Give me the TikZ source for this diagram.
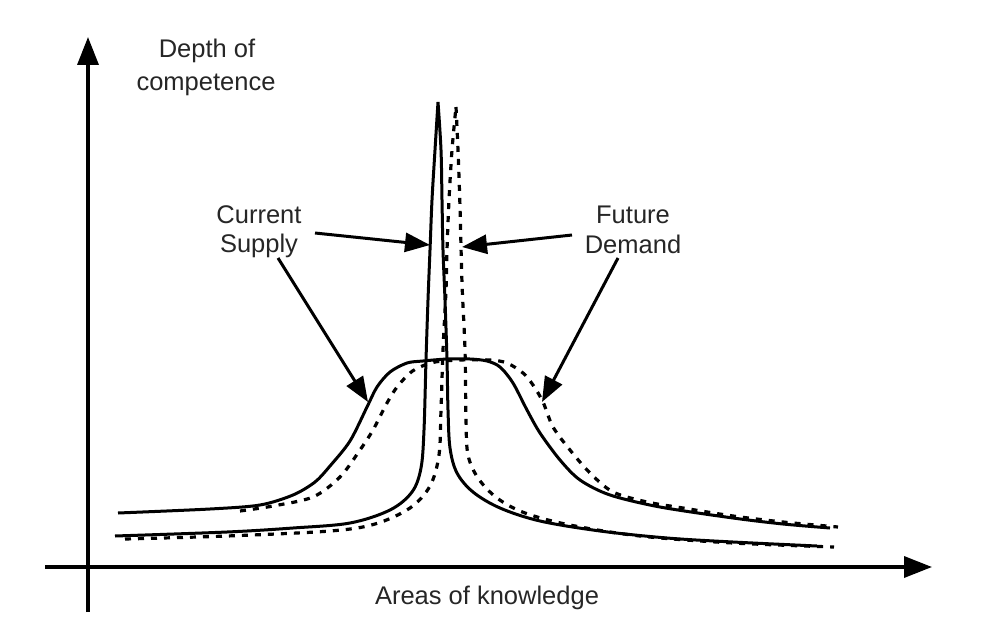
\documentclass[tikz,border=0pt]{standalone}
\usepackage{fontspec}
\setmainfont{Liberation Sans}
\usetikzlibrary{arrows.meta}
\begin{document}
\begin{tikzpicture}[x=1pt,y=-1pt,
  axis/.style={line width=3.5pt,-{Triangle[length=28pt,width=21pt]}},
  ptr/.style={line width=3pt,-{Triangle[length=25pt,width=19pt]}},
  supply/.style={line width=3pt,line join=round},
  demand/.style={line width=3.2pt,dash pattern=on 6pt off 7pt,line join=round},
  lbl/.style={inner sep=0pt,anchor=base,text=black!85,font=\fontsize{25.5}{32}\selectfont}]
\useasboundingbox[fill=white] (0,0) rectangle (982,626);

% axes
\coordinate (yb) at (88,612);
\coordinate (yt) at (88,37);
\coordinate (xl) at (45,567);
\coordinate (xr) at (932,567);
\draw[axis] (yb) -- (yt);
\draw[axis] (xl) -- (xr);

% labels
\node[lbl] (d1) at (207,58) {Depth of};
\node[lbl] (d2) at (206,90) {competence};
\node[lbl] (cs1) at (259,223) {Current};
\node[lbl] (cs2) at (259,252) {Supply};
\node[lbl] (fd1) at (633,223) {Future};
\node[lbl] (fd2) at (633,253) {Demand};
\node[lbl] (ak) at (487,604) {Areas of knowledge};

% current supply: broad curve
\draw[supply] plot[smooth,tension=0.5] coordinates {(118,513) (210,509) (260,505) (293,495) (315,482) (330,466) (350,441) (367,407) (377,387) (390,372) (407,363) (423,361) (447,359) (470,359) (487,361) (500,367) (513,383) (527,410) (540,433) (560,460) (580,480) (610,495) (660,507) (733,518) (783,524) (830,528)};
% current supply: narrow peak
\draw[supply] plot[smooth,tension=0.55] coordinates {(115,536) (227,532) (293,528) (350,523) (390,510) (412,492) (421,468) (424,430) (426,360) (428,300) (430,250) (432,200) (435,150) (438,102)}
  plot[smooth,tension=0.55] coordinates {(438,102) (441,150) (442,200) (443,250) (445,300) (447,360) (448,410) (450,448) (457,473) (473,492) (500,508) (540,521) (600,531) (667,538) (733,542) (817,546)};

% future demand: broad curve
\draw[demand] plot[smooth,tension=0.5] coordinates {(240,511) (273,506) (313,497) (340,477) (360,450) (373,430) (387,403) (397,387) (410,373) (420,367) (435,362) (460,360) (490,360) (507,363) (523,373) (533,385) (543,402) (553,427) (570,450) (590,473) (613,492) (647,502) (683,508) (733,516) (783,522) (838,527)};
% future demand: narrow peak
\draw[demand] plot[smooth,tension=0.55] coordinates {(125,539) (227,536) (330,531) (375,524) (410,508) (430,486) (439,455) (441,410) (443,350) (446,290) (447,250) (449,200) (452,150) (456,107)}
  plot[smooth,tension=0.55] coordinates {(456,107) (458,150) (460,207) (462,283) (465,350) (466,420) (468,455) (478,478) (497,498) (525,513) (570,525) (640,536) (733,543) (834,547)};

% pointers
\coordinate (a1s) at (315,233);
\coordinate (a1e) at (430,245);
\coordinate (a2s) at (278,258);
\coordinate (a2e) at (368,402);
\coordinate (a3s) at (572,235);
\coordinate (a3e) at (462,247);
\coordinate (a4s) at (618,258);
\coordinate (a4e) at (542,402);
\draw[ptr] (a1s) -- (a1e);
\draw[ptr] (a2s) -- (a2e);
\draw[ptr] (a3s) -- (a3e);
\draw[ptr] (a4s) -- (a4e);
\end{tikzpicture}
\end{document}
